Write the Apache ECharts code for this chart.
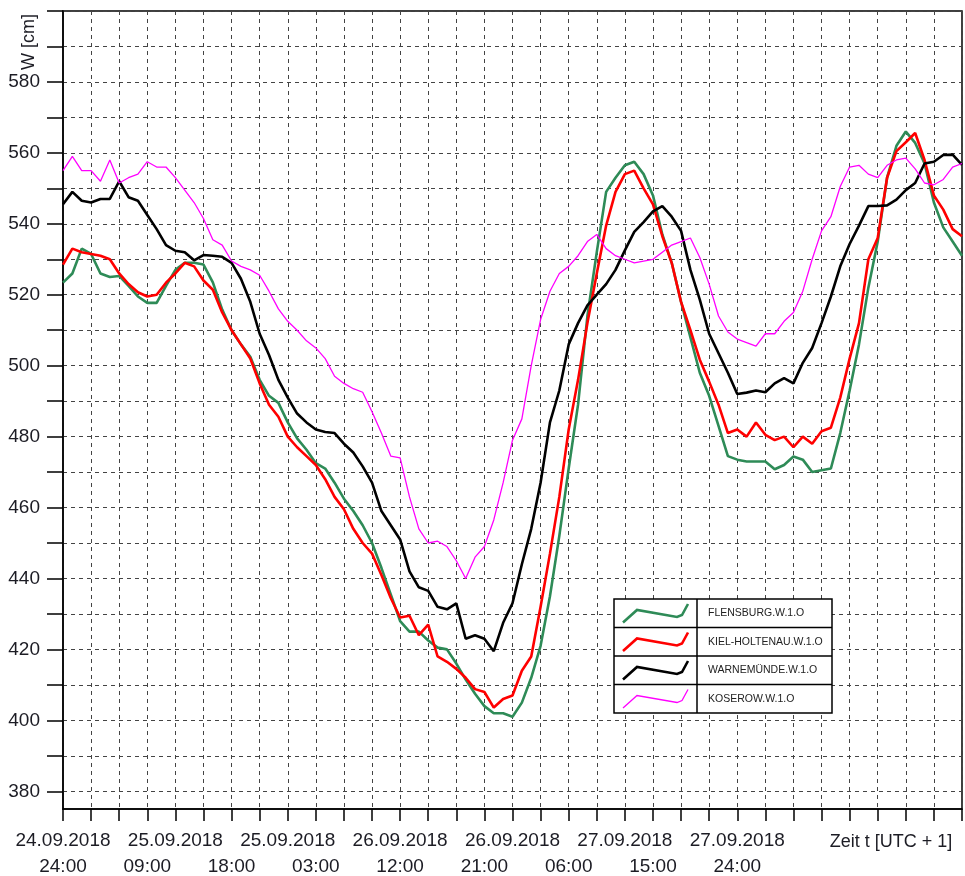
<!DOCTYPE html>
<html>
<head>
<meta charset="utf-8">
<title>Wasserstand Ostsee</title>
<script src="https://cdn.jsdelivr.net/npm/echarts@6/dist/echarts.min.js"></script>
<style>
  html, body { margin: 0; padding: 0; background: #fff; }
  #chart { width: 965px; height: 876px; }
</style>
</head>
<body>
<div id="chart"></div>
<script>
// Stunden ab 24.09.2018 24:00
const hours = [0, 1, 2, 3, 4, 5, 6, 7, 8, 9, 10, 11, 12, 13, 14, 15, 16, 17, 18, 19,
  20, 21, 22, 23, 24, 25, 26, 27, 28, 29, 30, 31, 32, 33, 34, 35, 36, 37, 38, 39,
  40, 41, 42, 43, 44, 45, 46, 47, 48, 49, 50, 51, 52, 53, 54, 55, 56, 57, 58, 59,
  60, 61, 62, 63, 64, 65, 66, 67, 68, 69, 70, 71, 72, 73, 74, 75, 76, 77, 78, 79,
  80, 81, 82, 83, 84, 85, 86, 87, 88, 89, 90, 91, 92, 93, 94, 95, 96];

const flensburg = [523.4, 526, 533, 531.5, 526, 525, 525.3, 522.5, 519.5, 517.7,
  517.7, 522.5, 527, 529, 529, 528.5, 523.5, 515.8, 510, 506,
  502.5, 496, 491.5, 489.5, 484, 479.5, 476.3, 472.5, 471, 467,
  462.5, 459, 455, 450, 443, 435.5, 428, 425, 425, 422.5,
  420.5, 420, 416, 411.5, 407.5, 404, 402, 402, 401, 405,
  412, 421, 435, 452, 471, 489, 514, 532, 549, 553,
  556.5, 557.5, 554, 548, 537, 529, 518, 508, 498, 491.5,
  483, 474.5, 473.5, 473, 473, 473, 470.8, 472, 474.4, 473.5,
  470, 470.5, 471, 481, 493, 506, 522, 535, 553, 562,
  566, 562.8, 557, 546, 539, 535, 531];

const kielHoltenau = [528.5, 533, 532, 531.5, 531, 530, 526, 523, 520.7, 519.5,
  520, 523.4, 526, 529, 528, 524, 521.4, 515, 510, 506,
  502, 495, 489, 485.6, 480, 477, 474.5, 472, 468, 463,
  459.5, 454, 450, 447, 441, 434.5, 429, 429.5, 424, 427,
  418, 416.5, 414.5, 412, 408.8, 408, 403.6, 406, 407, 414,
  418, 432, 447, 463, 482, 496, 512, 526, 539.5, 549,
  554, 555, 550, 545.5, 536.5, 529, 518, 510, 501.7, 495.5,
  489, 481, 482, 480, 484, 480.5, 479, 480, 477, 480,
  478, 481.5, 482.5, 491, 502, 512, 530, 536, 553, 560.5,
  563, 565.6, 558, 548, 544, 538.5, 536.5];

const warnemuende = [545.5, 549, 546.5, 546, 547, 547, 552, 547.5, 546.5, 542.5,
  538.5, 534, 532.4, 532, 529.7, 531.2, 531, 530.7, 529, 524.5,
  518, 509, 503, 496, 491, 486.5, 484, 482, 481.3, 481,
  478, 475.5, 471.6, 467, 459, 455, 451, 442, 437.5, 436.5,
  432, 431.3, 433, 423, 424, 423, 419.5, 427.5, 433, 444,
  454, 467, 484, 493, 506, 512, 517, 520, 523, 527,
  532.5, 537.7, 540.5, 543.5, 545, 542, 538, 527, 518.6, 509,
  503.5, 498, 492, 492.4, 493, 492.5, 495, 496.5, 495, 500.8,
  505, 512, 519.5, 528, 534.3, 539.5, 545, 545, 545.2, 546.8,
  549.5, 551.5, 557, 557.5, 559.4, 559.5, 556.6];

const koserow = [555, 559, 555, 555, 552, 558, 551.5, 553, 554, 557.5,
  556, 556, 553, 549.5, 546, 541.5, 535.5, 534, 529.5, 528,
  527, 525.5, 521, 516, 512.5, 510, 507, 505, 502, 497,
  495, 493.5, 492.5, 487, 481, 474.5, 474, 463, 454, 450,
  450.5, 449, 445, 440, 446, 449, 456.5, 467, 479, 485,
  500, 513, 521, 526, 528, 531, 535, 537, 533, 531,
  530, 529, 529.5, 530, 532, 534, 535, 536, 530.5, 523,
  514, 509.5, 507.5, 506.5, 505.5, 509, 509, 512.5, 515, 521,
  530, 538, 542, 550.5, 556, 556.5, 554, 553, 556.5, 558,
  558.5, 555.5, 551.5, 551, 552.5, 556, 557];

const seriesNames = ['FLENSBURG.W.1.O', 'KIEL-HOLTENAU.W.1.O', 'WARNEMÜNDE.W.1.O', 'KOSEROW.W.1.O'];
const seriesValues = [flensburg, kielHoltenau, warnemuende, koserow];
const seriesColors = ['#2e8b57', '#ff0000', '#000000', '#ff00ff'];
const seriesWidths = [2.6, 2.6, 2.6, 1.3];

// Achsenbeschriftung
const yTickValues = [380, 390, 400, 410, 420, 430, 440, 450, 460, 470, 480, 490, 500,
  510, 520, 530, 540, 550, 560, 570, 580, 590, 600];
const yLabelValues = [380, 400, 420, 440, 460, 480, 500, 520, 540, 560, 580];
const dateTickHours = [0, 12, 24, 36, 48, 60, 72];
const dateTickLabels = ['24.09.2018', '25.09.2018', '25.09.2018', '26.09.2018', '26.09.2018', '27.09.2018', '27.09.2018'];
const timeTickHours = [0, 9, 18, 27, 36, 45, 54, 63, 72];
const timeTickLabels = ['24:00', '09:00', '18:00', '03:00', '12:00', '21:00', '06:00', '15:00', '24:00'];

const FONT = '"Liberation Sans", Arial, sans-serif';
const TEXT_COLOR = '#1c1c24';

const chart = echarts.init(document.getElementById('chart'));

const getSeriesOption = () => {
  const series = [];
  seriesNames.forEach((name, i) => {
    series.push({
      name: name,
      type: 'line',
      data: hours.map((h, j) => [h, seriesValues[i][j]]),
      symbol: 'none',
      smooth: false,
      lineStyle: { color: seriesColors[i], width: seriesWidths[i] },
      itemStyle: { color: seriesColors[i] },
      z: 3 + i,
    });
  });
  return series;
};

const labelFor = (ticks, labels) => (value) => {
  const idx = ticks.indexOf(Math.round(value));
  return idx >= 0 ? labels[idx] : '';
};

// Legende als Tabelle (liegt über den Kurven und dem Gitter)
const getLegendGraphic = () => {
  const box = { x: 614, y: 599, w: 218, rowH: 28.5, split: 83 };
  const Z = 100;
  const children = [];
  children.push({
    type: 'rect',
    z: Z,
    shape: { x: 0, y: 0, width: box.w, height: box.rowH * 4 },
    style: { fill: '#ffffff', stroke: '#000', lineWidth: 1.5 },
  });
  children.push({
    type: 'line',
    z: Z + 1,
    shape: { x1: box.split, y1: 0, x2: box.split, y2: box.rowH * 4 },
    style: { stroke: '#000', lineWidth: 1.5 },
  });
  seriesNames.forEach((name, i) => {
    const top = i * box.rowH;
    if (i > 0) {
      children.push({
        type: 'line',
        z: Z + 1,
        shape: { x1: 0, y1: top, x2: box.w, y2: top },
        style: { stroke: '#000', lineWidth: 1.5 },
      });
    }
    children.push({
      type: 'polyline',
      z: Z + 2,
      shape: { points: [[9, top + 23.5], [23, top + 11], [63, top + 18], [68, top + 16], [74, top + 5]] },
      style: { stroke: seriesColors[i], lineWidth: seriesWidths[i], fill: null },
    });
    children.push({
      type: 'text',
      z: Z + 2,
      x: 94,
      y: top + box.rowH / 2,
      style: {
        text: name,
        fill: '#222',
        font: '10.5px ' + FONT,
        verticalAlign: 'middle',
        align: 'left',
      },
    });
  });
  return { type: 'group', x: box.x, y: box.y, z: Z, children: children };
};

const option = {
  animation: false,
  backgroundColor: '#fff',
  grid: {
    left: 63,
    right: 3,
    top: 11,
    bottom: 66,
    show: true,
    borderColor: '#000',
    borderWidth: 1.5,
    backgroundColor: 'transparent',
  },
  xAxis: [
    {
      type: 'value',
      min: 0,
      max: 96,
      interval: 3,
      position: 'bottom',
      axisLine: { show: true, lineStyle: { color: '#000', width: 1.5 } },
      axisTick: { show: true, inside: false, length: 12, lineStyle: { color: '#000', width: 1.5 } },
      axisLabel: {
        margin: 22,
        fontSize: 19,
        fontFamily: FONT,
        color: TEXT_COLOR,
        hideOverlap: false,
        formatter: labelFor(dateTickHours, dateTickLabels),
      },
      splitLine: { show: true, lineStyle: { type: [4, 4], color: '#444', width: 1 } },
    },
    {
      type: 'value',
      min: 0,
      max: 96,
      interval: 3,
      position: 'bottom',
      offset: 0,
      axisLine: { show: false },
      axisTick: { show: false },
      axisLabel: {
        margin: 48,
        fontSize: 19,
        fontFamily: FONT,
        color: TEXT_COLOR,
        hideOverlap: false,
        formatter: labelFor(timeTickHours, timeTickLabels),
      },
      splitLine: { show: false },
    },
  ],
  yAxis: {
    type: 'value',
    min: 375,
    max: 600,
    axisLine: { show: true, lineStyle: { color: '#000', width: 1.5 } },
    axisTick: {
      show: true,
      inside: false,
      length: 16,
      customValues: yTickValues,
      lineStyle: { color: '#000', width: 1.5 },
    },
    axisLabel: {
      margin: 23,
      fontSize: 19,
      fontFamily: FONT,
      color: TEXT_COLOR,
      customValues: yLabelValues,
    },
    splitLine: { show: true, lineStyle: { type: [4, 4], color: '#444', width: 1 } },
  },
  graphic: [
    {
      type: 'text',
      x: 29,
      y: 42,
      rotation: Math.PI / 2,
      style: {
        text: 'W [cm]',
        fill: TEXT_COLOR,
        font: '18px ' + FONT,
        align: 'center',
        verticalAlign: 'middle',
      },
    },
    {
      type: 'text',
      x: 891,
      y: 842,
      style: {
        text: 'Zeit t [UTC + 1]',
        fill: TEXT_COLOR,
        font: '18px ' + FONT,
        align: 'center',
        verticalAlign: 'middle',
      },
    },
    getLegendGraphic(),
  ],
  series: getSeriesOption(),
};

chart.setOption(option);
</script>
</body>
</html>
